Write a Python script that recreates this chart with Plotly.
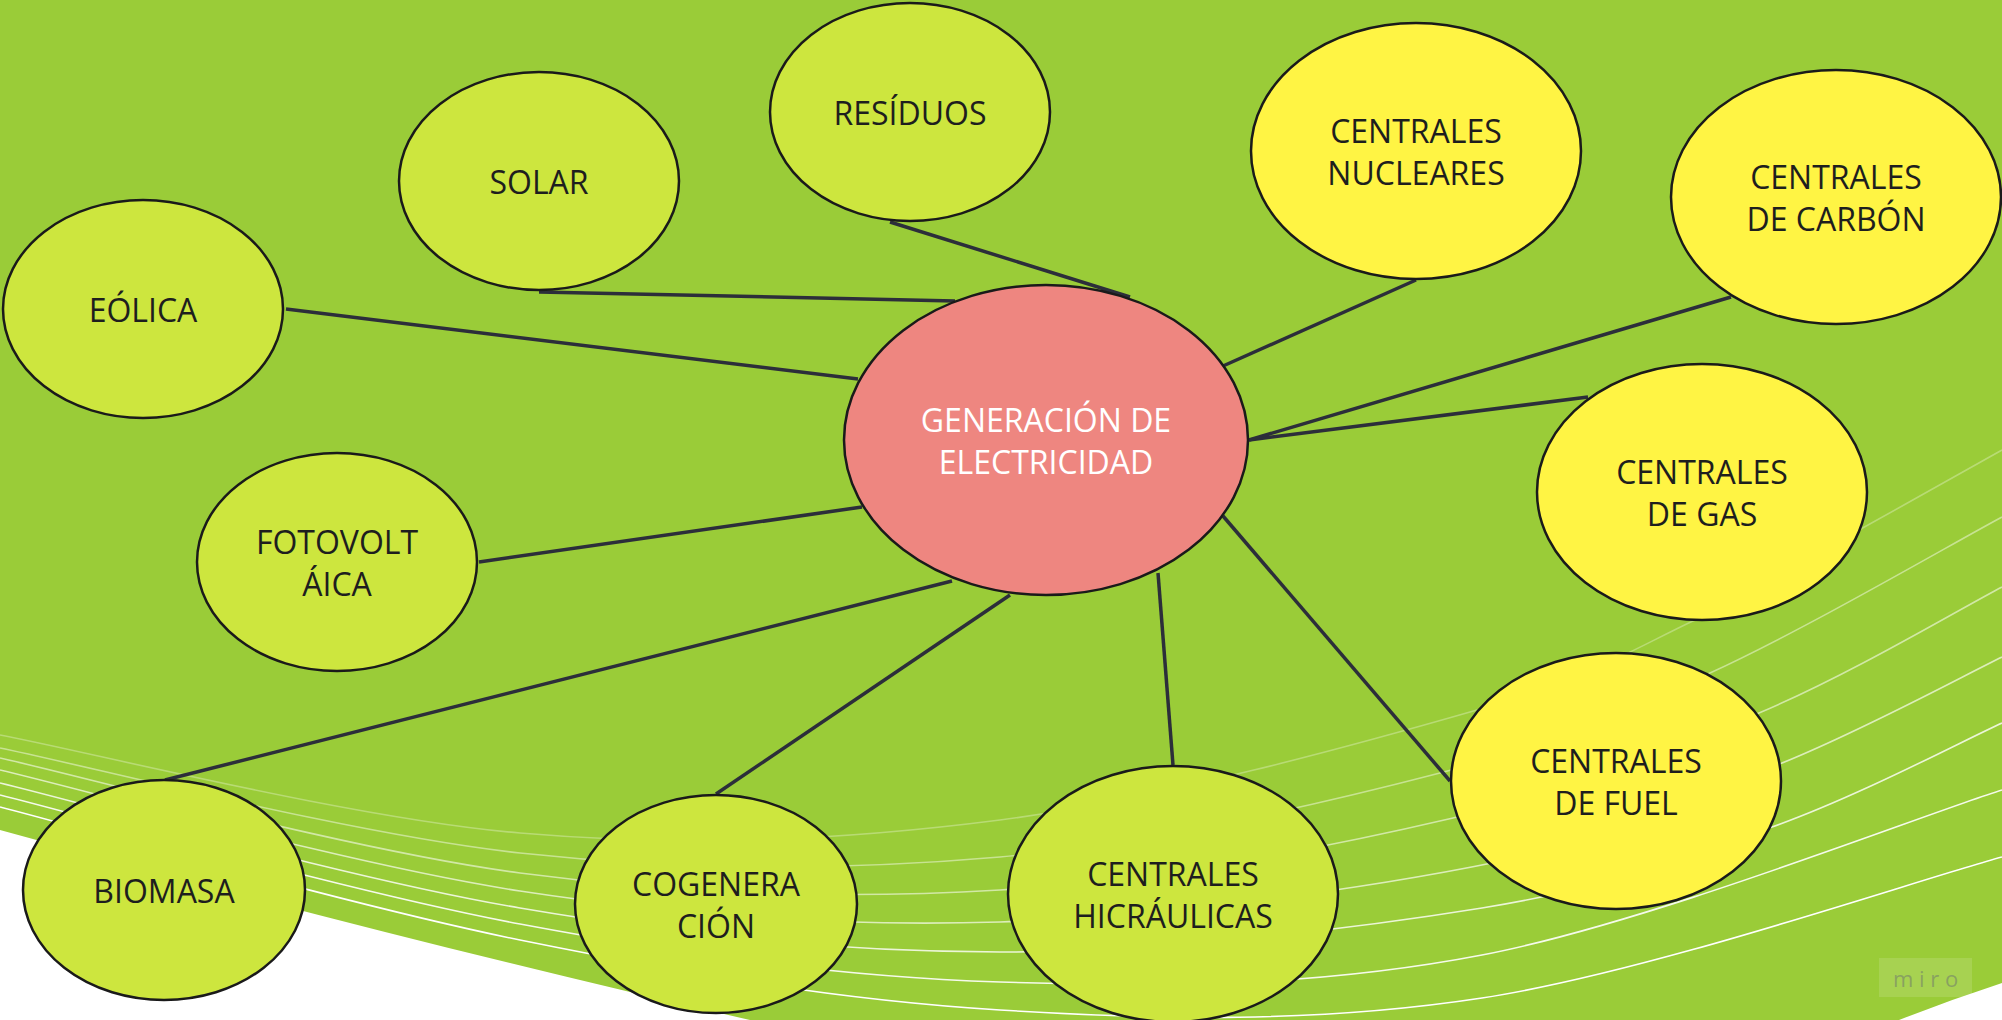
import plotly.graph_objects as go

W, H = 2002, 1020

# ---------------- data ----------------
node_labels = [
    "GENERACIÓN DE<br>ELECTRICIDAD",
    "RESÍDUOS", "SOLAR", "EÓLICA", "FOTOVOLT<br>ÁICA", "BIOMASA", "COGENERA<br>CIÓN",
    "CENTRALES<br>HICRÁULICAS", "CENTRALES<br>DE FUEL", "CENTRALES<br>DE GAS",
    "CENTRALES<br>DE CARBÓN", "CENTRALES<br>NUCLEARES",
]
node_group = ["center"] + ["renovable"] * 7 + ["convencional"] * 4
node_x = [1046, 910, 539, 143, 337, 164, 716, 1173, 1616, 1702, 1836, 1416]
node_y = [440, 112, 181, 309, 562, 890, 904, 894, 781, 492, 197, 151]
node_rx = [202, 140, 140, 140, 140, 141, 141, 165, 165, 165, 165, 165]
node_ry = [155, 109, 109, 109, 109, 110, 109, 128, 128, 128, 127, 128]

# connector end points (child side -> central node side)
link_x0 = [890, 539, 286, 479, 165, 716, 1173, 1450, 1588, 1731, 1416]
link_y0 = [222, 292, 309, 562, 780, 794, 765, 781, 397, 297, 280]
link_x1 = [1130, 955, 858, 862, 952, 1010, 1158, 1223, 1249, 1249, 1223]
link_y1 = [297, 301, 379, 507, 581, 595, 573, 516, 440, 440, 366]

# decorative white swoosh lines of the background
arc_x = [
    [0, 520, 1000, 1477, 1695, 1859, 2002],
    [0, 520, 1000, 1440, 1710, 2002],
    [0, 520, 1000, 1453, 1759, 2002],
    [0, 520, 1000, 1497, 1782, 2002],
    [0, 520, 1000, 1482, 1772, 2002],
    [0, 520, 1000, 1482, 2002],
    [0, 520, 1000, 1482, 2002],
]
arc_y = [
    [735, 833, 820, 710, 620, 530, 450],
    [748, 853, 857, 773, 673, 517],
    [758, 873, 890, 818, 713, 587],
    [770, 891, 922, 862, 763, 657],
    [783, 908, 952, 908, 827, 723],
    [795, 924, 982, 955, 790],
    [807, 940, 1010, 998, 857],
]
arc_opacity = [0.3, 0.45, 0.55, 0.65, 0.8, 0.9, 1.0]

# ---------------- styles ----------------
BG_GREEN = "#9ACC38"
FILL = {"center": "#EE8680", "renovable": "#CDE63E", "convencional": "#FFF444"}
TEXT_COL = {"center": "#FFFFFF", "renovable": "#1E1E1E", "convencional": "#1E1E1E"}
LINK_COL = "#2C2E3A"
FONT = "Open Sans"
FONT_SIZE = 32
TEXT_SHIFT = 5  # optical centring of caps inside the ellipse


def smooth_path(xs, ys):
    pts = list(zip(xs, ys))
    d = f"M {pts[0][0]},{pts[0][1]}"
    n = len(pts)
    for i in range(n - 1):
        p0 = pts[i - 1] if i > 0 else pts[i]
        p1 = pts[i]
        p2 = pts[i + 1]
        p3 = pts[i + 2] if i + 2 < n else p2
        c1 = (p1[0] + (p2[0] - p0[0]) / 6, p1[1] + (p2[1] - p0[1]) / 6)
        c2 = (p2[0] - (p3[0] - p1[0]) / 6, p2[1] - (p3[1] - p1[1]) / 6)
        d += f" C {c1[0]:.1f},{c1[1]:.1f} {c2[0]:.1f},{c2[1]:.1f} {p2[0]},{p2[1]}"
    return d


shapes = []
# green background with white areas at the bottom-left and bottom-right
shapes.append(dict(
    type="path", xref="x", yref="y", layer="below",
    path="M 0,0 L 2002,0 L 2002,983 Q 1950,1000 1899,1020 L 750,1020 Q 400,940 0,830 Z",
    fillcolor=BG_GREEN, line=dict(width=0),
))
for xs, ys, op in zip(arc_x, arc_y, arc_opacity):
    shapes.append(dict(
        type="path", xref="x", yref="y", layer="below",
        path=smooth_path(xs, ys),
        line=dict(color=f"rgba(255,255,255,{op})", width=1.6),
    ))
for x0, y0, x1, y1 in zip(link_x0, link_y0, link_x1, link_y1):
    shapes.append(dict(
        type="line", xref="x", yref="y", layer="below",
        x0=x0, y0=y0, x1=x1, y1=y1,
        line=dict(color=LINK_COL, width=3.5),
    ))
for cx, cy, rx, ry, g in zip(node_x, node_y, node_rx, node_ry, node_group):
    shapes.append(dict(
        type="circle", xref="x", yref="y", layer="below",
        x0=cx - rx, x1=cx + rx, y0=cy - ry, y1=cy + ry,
        fillcolor=FILL[g], line=dict(color="#1A1A1A", width=2.5),
    ))
# miro watermark box
shapes.append(dict(
    type="rect", xref="x", yref="y", layer="below",
    x0=1879, x1=1972, y0=958, y1=997,
    fillcolor="rgba(255,255,255,0.13)", line=dict(width=0),
))

fig = go.Figure()
fig.add_trace(go.Scatter(
    x=node_x, y=[v + TEXT_SHIFT for v in node_y], mode="text", text=node_labels,
    textposition="middle center",
    textfont=dict(family=FONT, size=FONT_SIZE, color=[TEXT_COL[g] for g in node_group]),
    hoverinfo="skip", showlegend=False,
))

fig.update_layout(
    width=W, height=H,
    margin=dict(l=0, r=0, t=0, b=0, pad=0),
    paper_bgcolor="white", plot_bgcolor="white",
    shapes=shapes,
    xaxis=dict(range=[0, W], visible=False, fixedrange=True),
    yaxis=dict(range=[H, 0], visible=False, fixedrange=True),
    annotations=[dict(
        x=1925.5, y=978, xref="x", yref="y", text="m i r o", showarrow=False,
        font=dict(family="Open Sans", size=22, color="rgba(110,120,110,0.55)"),
    )],
)

fig.write_html(
    "out.html",
    config={"displayModeBar": False},
    post_script="document.body.style.margin='0';document.body.style.overflow='hidden';",
)
